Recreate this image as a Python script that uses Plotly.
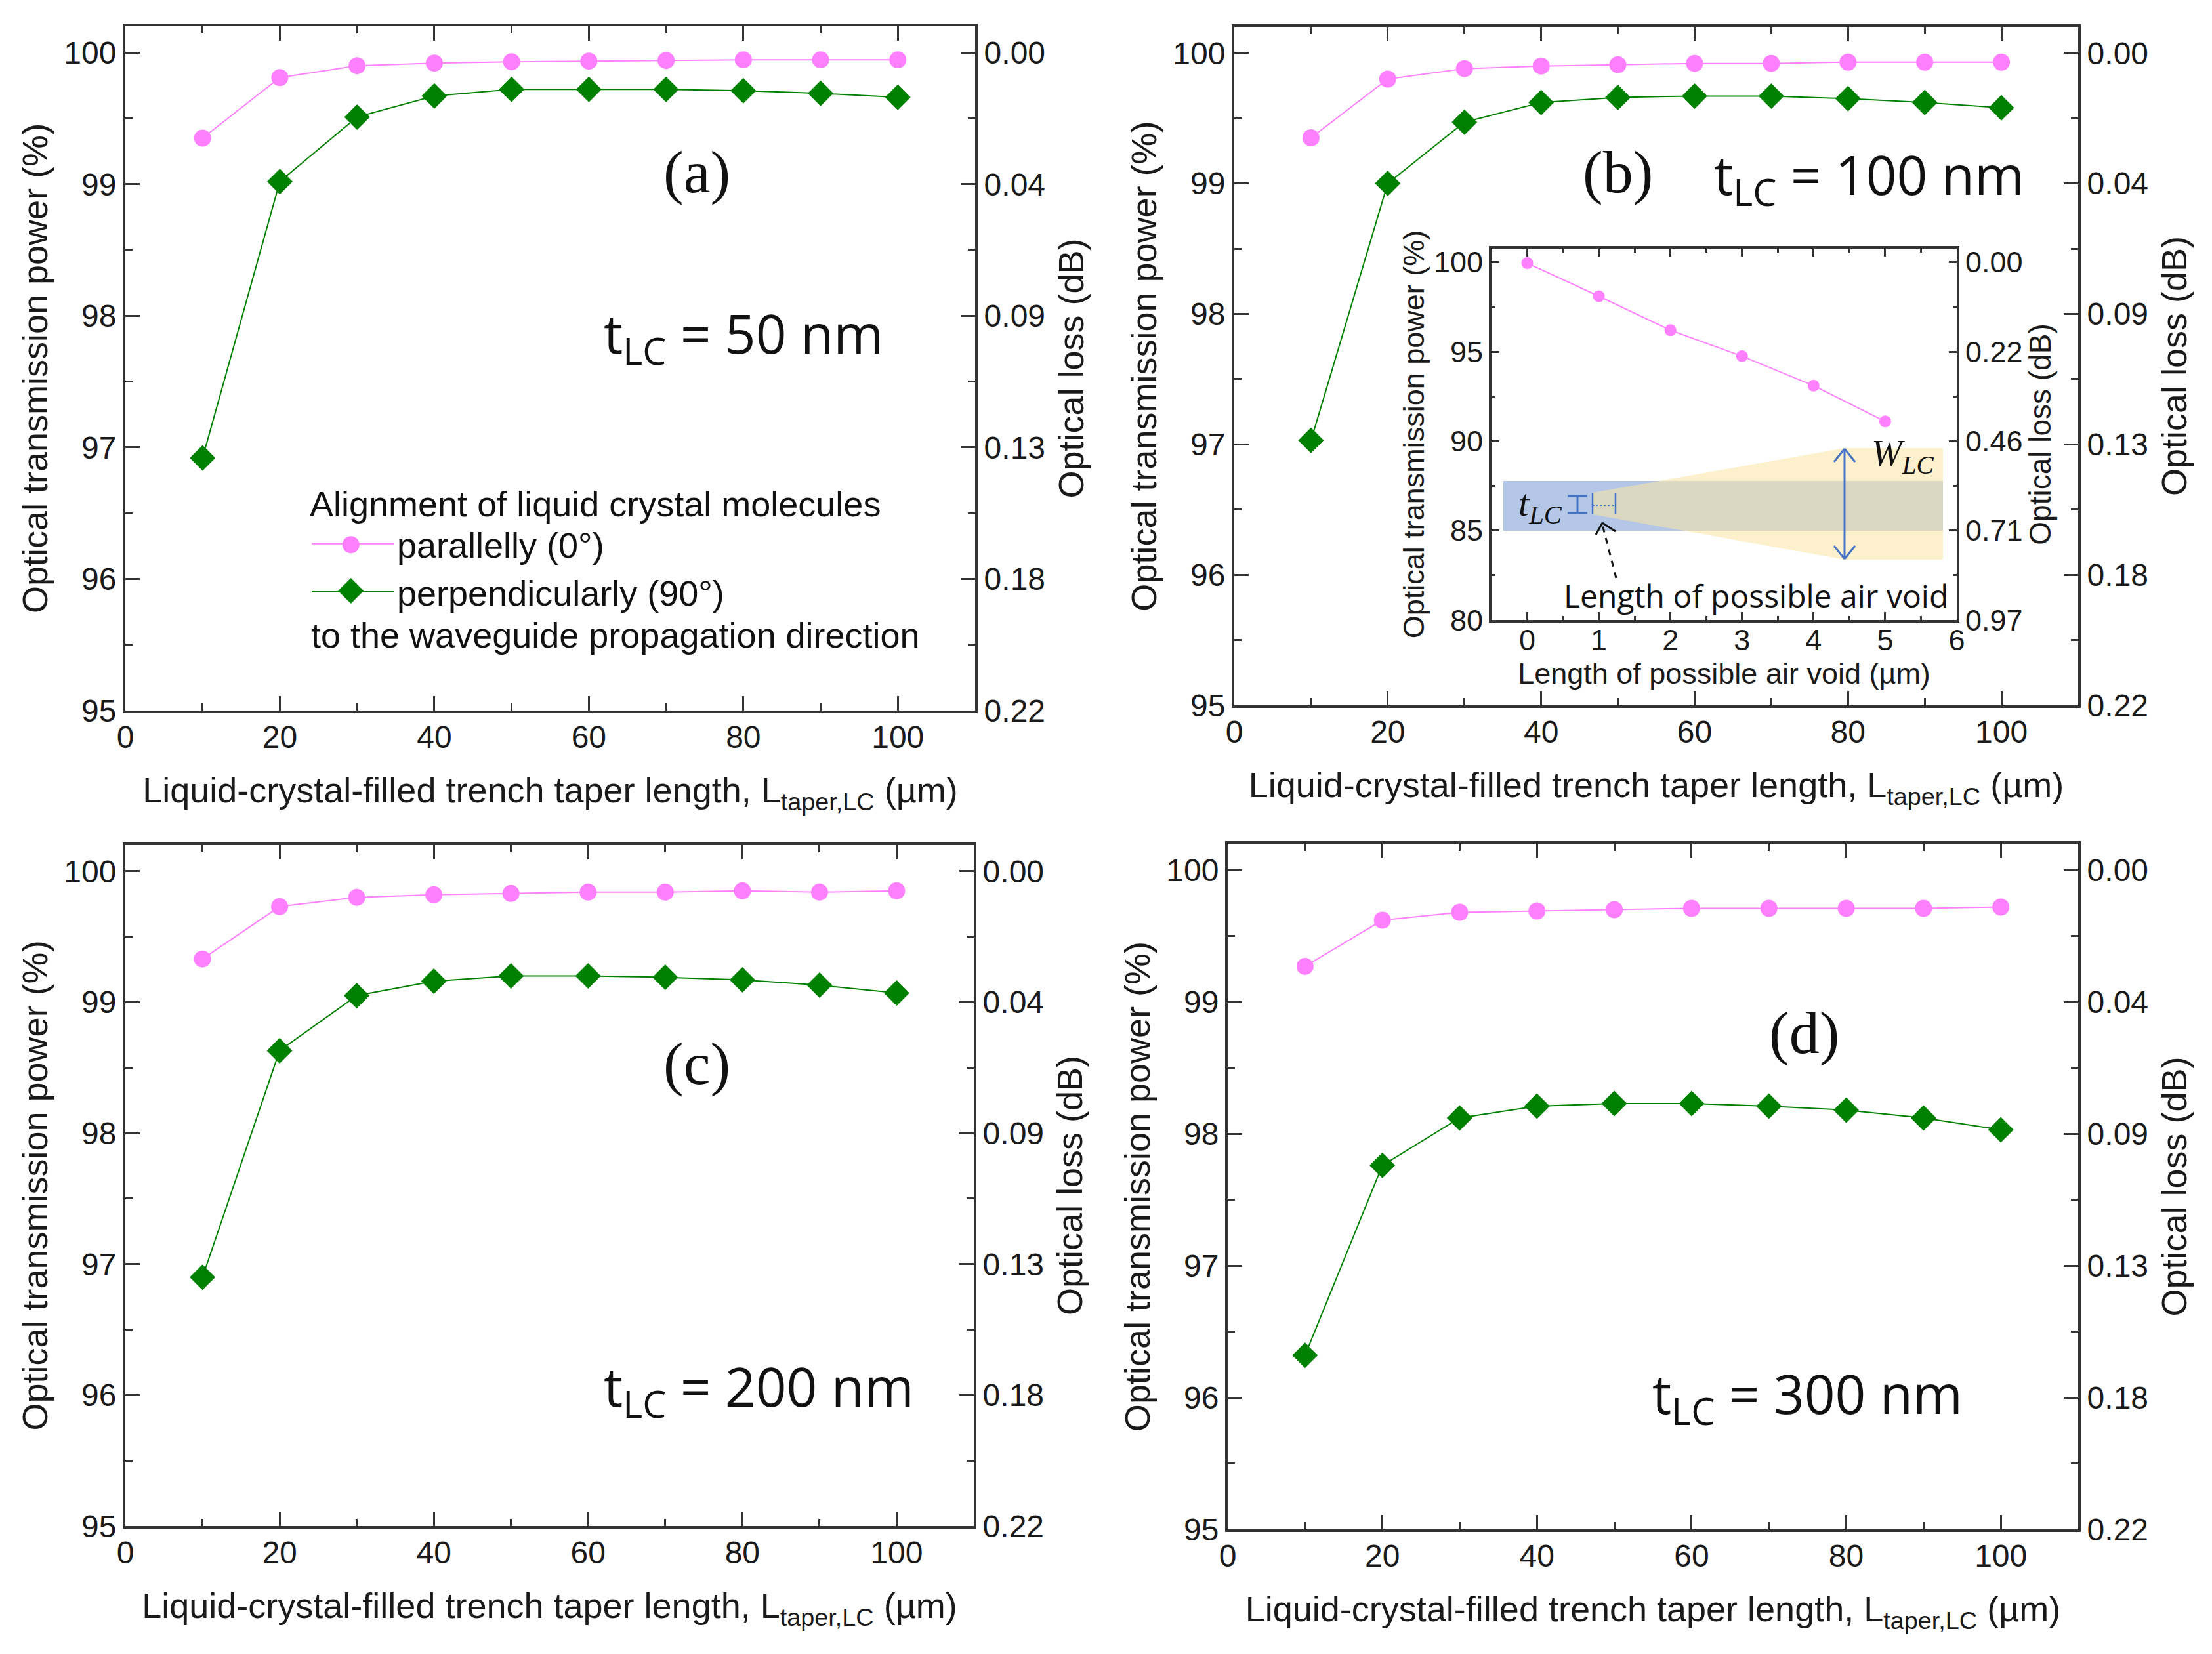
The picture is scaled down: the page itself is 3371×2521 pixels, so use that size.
import plotly.graph_objects as go

W, H = 3371, 2521
taper_length = [10, 20, 30, 40, 50, 60, 70, 80, 90, 100]
par_a = [99.35, 99.81, 99.90, 99.92, 99.93, 99.935, 99.94, 99.945, 99.945, 99.945]
perp_a = [96.92, 99.02, 99.51, 99.67, 99.72, 99.72, 99.72, 99.71, 99.69, 99.66]
par_b = [99.35, 99.80, 99.88, 99.90, 99.91, 99.92, 99.92, 99.93, 99.93, 99.93]
perp_b = [97.03, 99.00, 99.47, 99.62, 99.66, 99.67, 99.67, 99.65, 99.62, 99.58]
par_c = [99.33, 99.73, 99.80, 99.82, 99.83, 99.84, 99.84, 99.85, 99.84, 99.85]
perp_c = [96.90, 98.63, 99.05, 99.16, 99.20, 99.20, 99.19, 99.17, 99.13, 99.07]
par_d = [99.27, 99.62, 99.68, 99.69, 99.70, 99.71, 99.71, 99.71, 99.71, 99.72]
perp_d = [96.32, 97.76, 98.12, 98.21, 98.23, 98.23, 98.21, 98.18, 98.12, 98.03]
void_length = [0, 1, 2, 3, 4, 5]
void_power = [99.95, 98.1, 96.2, 94.75, 93.1, 91.1]
power_ticks = [95, 96, 97, 98, 99, 100]
loss_ticks = ["0.22", "0.18", "0.13", "0.09", "0.04", "0.00"]
inset_power_ticks = [80, 85, 90, 95, 100]
inset_loss_ticks = ["0.97", "0.71", "0.46", "0.22", "0.00"]
legend_key_x = [29.2]
legend_key_par_y = [96.26]
legend_key_perp_y = [95.91]

PINK = "#FF80FF"
GREEN = "#008000"
AXC = "#333333"
SANS = "Liberation Sans"
CAL = "Open Sans"
SERIF = "Liberation Serif"
TICK = 48
TITLE = 54
XT = "Liquid-crystal-filled trench taper length, L<sub>taper,LC</sub> (µm)"
YT = "Optical transmission power (%)"
RT = "Optical loss (dB)"


def X(p):
    return p / W


def Y(p):
    return 1 - p / H


fig = go.Figure()
layout = {}
ann = []
shapes = []

panels = [
    (par_a, perp_a, (191, 1486, 40, 1083)),
    (par_b, perp_b, (1881, 3167, 41, 1075)),
    (par_c, perp_c, (191, 1484, 1288, 2326)),
    (par_d, perp_d, (1871, 3167, 1286, 2331)),
]


def axes(i, frame, xr, yr, xvals, xminor, yvals, yminor, rtext, tick, title, xt, lt, rt, xstand, ystand, rstand, tl, xlabel_off):
    l, r, t, b = frame
    xn, yn, y2n = i * 2 - 1, i * 2, 10 + i
    common = dict(showgrid=False, zeroline=False, linecolor=AXC, linewidth=4, ticks="inside",
                  tickcolor=AXC, tickwidth=3, ticklen=tl, showline=True,
                  tickfont=dict(family=SANS, size=tick, color="#1a1a1a"))
    minor = dict(ticks="inside", ticklen=tl // 2, tickwidth=3, tickcolor=AXC, showgrid=False)
    ttl = lambda s, st: dict(text=s, font=dict(family=SANS, size=title, color="#1a1a1a"), standoff=st)
    layout[f"xaxis{xn}"] = dict(domain=[X(l), X(r)], range=xr, anchor=f"y{yn}", mirror="ticks",
                                ticklabelstandoff=xlabel_off,
                                tickvals=xvals, minor=dict(tickvals=xminor, **minor), title=ttl(xt, xstand), **common)
    layout[f"yaxis{yn}"] = dict(domain=[Y(b), Y(t)], range=yr, anchor=f"x{xn}", mirror=True,
                                tickvals=yvals, minor=dict(tickvals=yminor, **minor), title=ttl(lt, ystand), **common)
    layout[f"yaxis{y2n}"] = dict(domain=[Y(b), Y(t)], range=yr, anchor=f"x{xn}", overlaying=f"y{yn}", side="right",
                                 tickvals=yvals, ticktext=rtext, minor=dict(tickvals=yminor, **minor),
                                 title=ttl(rt, rstand), **common)
    return f"x{xn}", f"y{yn}", f"y{y2n}"


for i, (par, perp, frame) in enumerate(panels, start=1):
    xa, ya, y2a = axes(i, frame, [0, 110], [95, 100.2], list(range(0, 101, 20)), list(range(10, 101, 20)),
                       power_ticks, [95.5, 96.5, 97.5, 98.5, 99.5], loss_ticks, TICK, TITLE, XT, YT, RT, 38, 8, 22, 22, -5)
    fig.add_trace(go.Scatter(x=taper_length, y=par, mode="lines+markers", name="parallelly (0°)",
                             line=dict(color=PINK, width=2), marker=dict(symbol="circle", size=26, color=PINK),
                             xaxis=xa, yaxis=ya, showlegend=i == 1))
    fig.add_trace(go.Scatter(x=taper_length, y=perp, mode="lines+markers", name="perpendicularly (90°)",
                             line=dict(color=GREEN, width=2), marker=dict(symbol="diamond", size=30, color=GREEN),
                             xaxis=xa, yaxis=ya, showlegend=i == 1))
    fig.add_trace(go.Scatter(x=taper_length, y=par, mode="lines", line=dict(color="rgba(0,0,0,0)"),
                             xaxis=xa, yaxis=y2a, showlegend=False, hoverinfo="skip"))

# larger legend keys, drawn in panel (a)
fig.add_trace(go.Scatter(x=legend_key_x, y=legend_key_par_y, mode="markers", showlegend=False, hoverinfo="skip",
                         marker=dict(symbol="circle", size=26, color=PINK), xaxis="x", yaxis="y2"))
fig.add_trace(go.Scatter(x=legend_key_x, y=legend_key_perp_y, mode="markers", showlegend=False, hoverinfo="skip",
                         marker=dict(symbol="diamond", size=30, color=GREEN), xaxis="x", yaxis="y2"))

# Inset
inset = (2273, 2982, 379, 945)
xa, ya, y2a = axes(5, inset, [-0.5, 6], [80, 100.76], [0, 1, 2, 3, 4, 5, 6], [0.5, 1.5, 2.5, 3.5, 4.5, 5.5],
                   inset_power_ticks, [82.5, 87.5, 92.5, 97.5], inset_loss_ticks, 45, 45,
                   "Length of possible air void (µm)", YT, RT, 5, 1, 12, 12, -12)
layout[y2a.replace("y", "yaxis")]["title"]["font"]["size"] = 46
fig.add_trace(go.Scatter(x=void_length, y=void_power, mode="lines+markers", showlegend=False,
                         line=dict(color=PINK, width=2), marker=dict(symbol="circle", size=18, color=PINK),
                         xaxis=xa, yaxis=ya))
fig.add_trace(go.Scatter(x=void_length, y=void_power, mode="lines", line=dict(color="rgba(0,0,0,0)"),
                         xaxis=xa, yaxis=y2a, showlegend=False, hoverinfo="skip"))


def text(s, x, y, fam, size, color="#111111", xanchor="left"):
    ann.append(dict(text=s, x=X(x), y=Y(y), xref="paper", yref="paper", showarrow=False, xanchor=xanchor,
                    yanchor="middle", font=dict(family=fam, size=size, color=color)))


# Panel labels
text("(a)", 1062, 262, SERIF, 92, xanchor="center")
text("(b)", 2465, 262, SERIF, 92, xanchor="center")
text("(c)", 1062, 1621, SERIF, 92, xanchor="center")
text("(d)", 2749, 1574, SERIF, 92, xanchor="center")
text("t<sub>LC</sub> = 50 nm", 918, 512, CAL, 82)
text("t<sub>LC</sub> = 100 nm", 2610, 270, CAL, 82)
text("t<sub>LC</sub> = 200 nm", 918, 2117, CAL, 82)
text("t<sub>LC</sub> = 300 nm", 2516, 2128, CAL, 82)
text("to the waveguide propagation direction", 472, 968, SANS, 54)


def rect(x0, y0, x1, y1, color):
    shapes.append(dict(type="rect", xref="paper", yref="paper", x0=X(x0), x1=X(x1), y0=Y(y0), y1=Y(y1),
                       fillcolor=color, line_width=0, layer="above"))


def seg(x0, y0, x1, y1, color="#4472C4", width=3, dash="solid"):
    shapes.append(dict(type="line", xref="paper", yref="paper", x0=X(x0), x1=X(x1), y0=Y(y0), y1=Y(y1),
                       line=dict(color=color, width=width, dash=dash), layer="above"))


rect(2291, 733, 2961, 809, "#B4C7E7")
pts = [(2427, 751), (2811, 683), (2961, 683), (2961, 853), (2811, 853), (2427, 784)]
path = "M " + " L ".join(f"{X(a):.5f},{Y(b):.5f}" for a, b in pts) + " Z"
shapes.append(dict(type="path", xref="paper", yref="paper", path=path, fillcolor="rgba(252,228,164,0.56)",
                   line_width=0, layer="above"))
# thickness marker
seg(2404, 757, 2404, 781)
seg(2404 - 15, 756, 2404 + 15, 756)
seg(2404 - 15, 782, 2404 + 15, 782)
seg(2427, 752, 2427, 784, width=2.5)
seg(2462, 752, 2462, 784, width=2.5)
seg(2427, 770, 2462, 770, width=2, dash="dot")
# width arrow
seg(2811, 684, 2811, 852)
seg(2811, 684, 2795, 704)
seg(2811, 684, 2827, 704)
seg(2811, 852, 2795, 832)
seg(2811, 852, 2827, 832)
# dashed pointer
seg(2463, 881, 2442, 800, color="#111111", dash="dash")
seg(2442, 797, 2432, 815, color="#111111")
seg(2442, 797, 2462, 810, color="#111111")
text("<i>t<sub>LC</sub></i>", 2312, 770, SERIF, 58)
text("<i>W<sub>LC</sub></i>", 2850, 695, SERIF, 56)
text("Length of possible air void", 2381, 907, CAL, 48)

fig.update_layout(
    width=W, height=H, margin=dict(l=0, r=0, t=0, b=0, autoexpand=False), paper_bgcolor="white",
    plot_bgcolor="rgba(0,0,0,0)", annotations=ann, shapes=shapes,
    legend=dict(x=X(470), y=Y(717), xanchor="left", yanchor="top", bgcolor="rgba(0,0,0,0)", itemwidth=125,
                title=dict(text="Alignment of liquid crystal molecules", font=dict(family=SANS, size=54, color="#111111")),
                font=dict(family=SANS, size=54, color="#111111"), tracegroupgap=0),
    **layout,
)
fig.write_html("out.html", config={"displayModeBar": False},
               post_script="document.body.style.margin='0';document.body.style.overflow='hidden';")
